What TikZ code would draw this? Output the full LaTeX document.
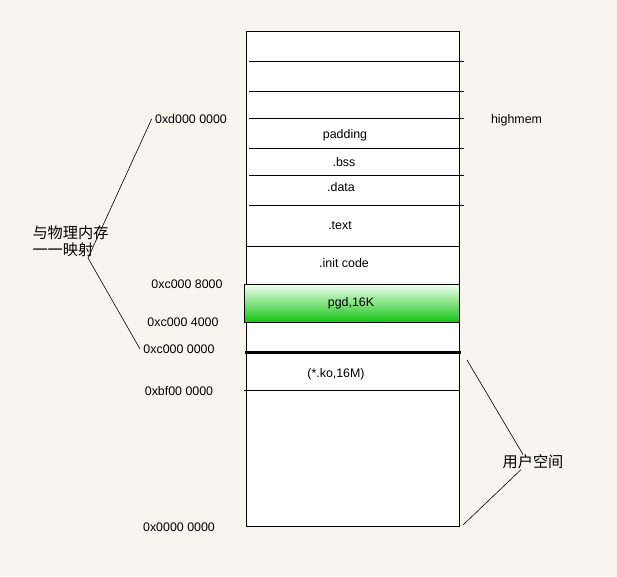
\documentclass[tikz,border=0pt]{standalone}
\usepackage{fontspec}
\setmainfont{Liberation Sans}
\newfontfamily\cjk{Noto Sans CJK SC}
\definecolor{bgcream}{RGB}{248,245,238}
\definecolor{pgdgreen}{RGB}{16,196,16}
\tikzset{
  addr/.style={inner sep=3pt, font=\fontsize{12.4}{14}\selectfont},
  seg/.style={inner sep=1pt, font=\fontsize{12.4}{14}\selectfont},
  note/.style={inner sep=0pt, font=\cjk\fontsize{15.2}{16.7}\selectfont, align=left},
  tie/.style={line width=0.6pt}
}
\begin{document}
\begin{tikzpicture}[x=1pt, y=-1pt, line width=1pt]
\fill[bgcream] (0,0) rectangle (617,576);
\useasboundingbox (0,0) rectangle (617,576);
% memory column
\draw[fill=white] (246.3,31.3) rectangle (459.3,526.3);
\foreach \y in {61.3,91.3,118.3,148,175,205.3}
  \draw (249,\y) -- (464,\y);
\draw (246.3,246.7) -- (459.3,246.7);
\draw[top color=green!6!white, bottom color=pgdgreen] (244.5,284.5) rectangle (459.3,322.5);
\draw[line width=2.5pt] (245,352.5) -- (461,352.5);
\draw (244,390.5) -- (459.3,390.5);
% segments
\node[seg] (padding) at (345,135) {padding};
\node[seg] (bss) at (344,162) {.bss};
\node[seg] (data) at (341,187) {.data};
\node[seg] (text) at (340,226) {.text};
\node[seg] (init) at (344,263) {.init code};
\node[seg] (pgd) at (351,303) {pgd,16K};
\node[seg] (ko) at (336,374) {(*.ko,16M)};
% addresses
\node[addr] (d0) at (191,119) {0xd000 0000};
\node[addr] (c8) at (187,284.5) {0xc000 8000};
\node[addr] (c4) at (183,322.5) {0xc000 4000};
\node[addr] (c0) at (179,349) {0xc000 0000};
\node[addr] (bf) at (179,391) {0xbf00 0000};
\node[addr] (zero) at (179,527) {0x0000 0000};
\node[addr] (highmem) at (516.5,120) {highmem};
% notes
\node[note, anchor=west] (map) at (32,241) {与物理内存\\一一映射};
\node[note] (user) at (533,462) {用户空间};
\coordinate (mapTip) at (88,258);
\coordinate (koEdge) at (467,360);
\coordinate (baseEdge) at (463,525);
\draw[tie] (d0.west) -- (mapTip) -- (c0.west);
\draw[tie] (koEdge) -- ([xshift=-10pt]user.north);
\draw[tie] ([xshift=-12pt]user.south) -- (baseEdge);
\end{tikzpicture}
\end{document}
